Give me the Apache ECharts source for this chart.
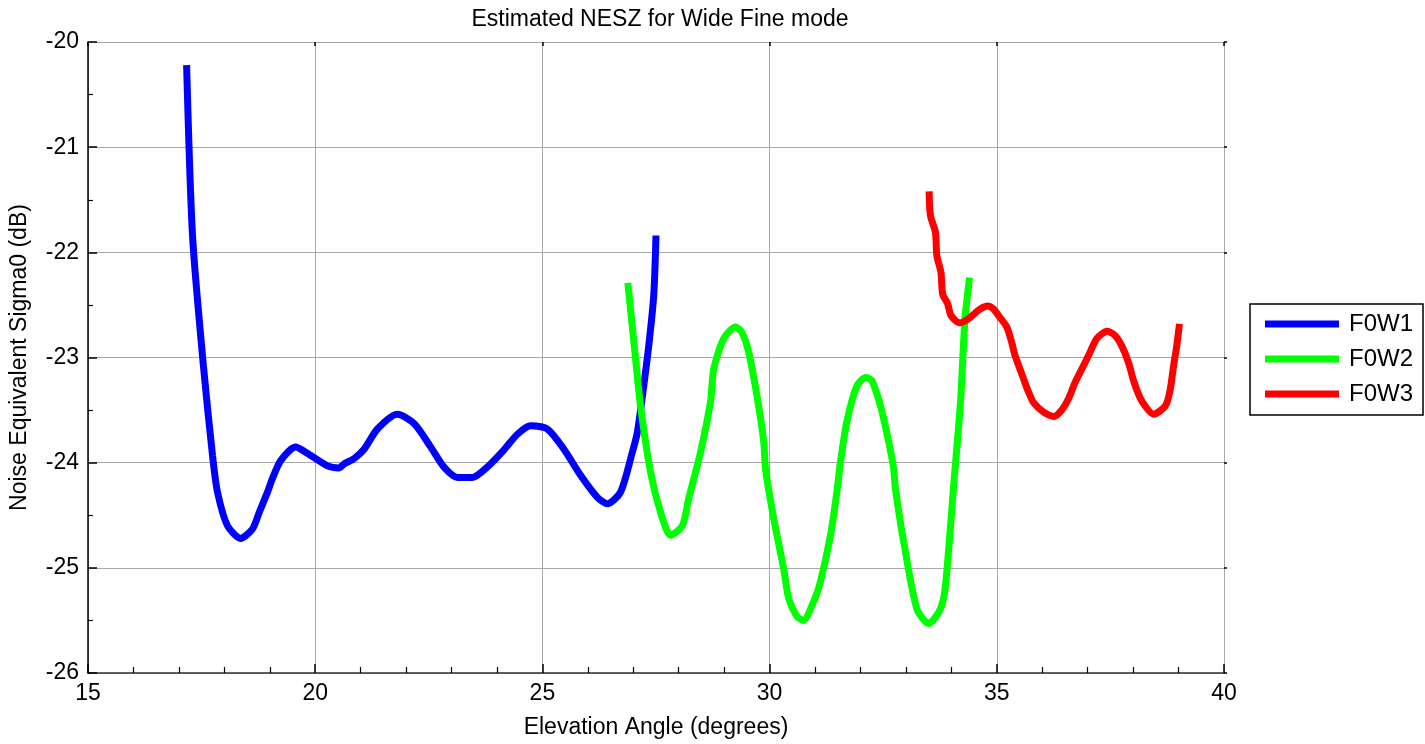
<!DOCTYPE html>
<html>
<head>
<meta charset="utf-8">
<script src="https://cdn.jsdelivr.net/npm/echarts@6/dist/echarts.min.js"></script>
<style>html,body{margin:0;padding:0;background:#fff}#c{width:1425px;height:744px}</style>
</head>
<body>
<div id="c"></div>
<script>
var seriesNames = ['F0W1', 'F0W2', 'F0W3'];
var f0w1X = [17.17,17.30,17.54,17.74,17.85,18.07,18.36,18.62,18.77,18.95,19.06,19.24,19.57,19.79,20.27,20.53,20.64,20.86,21.08,21.37,21.81,22.18,22.54,22.83,23.13,23.46,23.79,24.15,24.45,24.74,25.11,25.47,25.84,26.21,26.43,26.72,26.98,27.09,27.23,27.34,27.45,27.50];
var f0w1Y = [-20.22,-21.84,-23.08,-23.93,-24.28,-24.60,-24.72,-24.63,-24.47,-24.28,-24.15,-23.98,-23.85,-23.90,-24.03,-24.05,-24.01,-23.96,-23.87,-23.68,-23.54,-23.63,-23.85,-24.04,-24.14,-24.14,-24.04,-23.88,-23.73,-23.65,-23.68,-23.87,-24.12,-24.33,-24.39,-24.28,-23.90,-23.71,-23.27,-22.89,-22.41,-21.84];
var f0w2X = [26.88,27.05,27.16,27.38,27.60,27.82,28.08,28.22,28.48,28.70,28.77,28.99,29.25,29.39,29.54,29.72,29.87,29.91,30.09,30.31,30.42,30.60,30.74,30.97,31.12,31.34,31.48,31.56,31.70,31.92,32.12,32.25,32.44,32.62,32.73,32.77,32.95,33.24,33.50,33.76,33.87,34.05,34.20,34.30,34.40];
var f0w2Y = [-22.29,-23.01,-23.46,-24.09,-24.47,-24.69,-24.60,-24.34,-23.90,-23.42,-23.11,-22.82,-22.71,-22.76,-22.95,-23.36,-23.80,-24.06,-24.53,-25.01,-25.29,-25.46,-25.50,-25.32,-25.13,-24.69,-24.28,-23.99,-23.61,-23.27,-23.19,-23.22,-23.46,-23.80,-24.06,-24.25,-24.75,-25.39,-25.53,-25.39,-25.17,-24.22,-23.43,-22.63,-22.24];
var f0w3X = [33.51,33.54,33.65,33.68,33.77,33.81,33.92,33.99,34.18,34.38,34.63,34.80,34.93,35.07,35.22,35.33,35.40,35.51,35.62,35.70,35.81,36.03,36.26,36.43,36.58,36.72,36.87,37.02,37.20,37.43,37.60,37.75,37.90,38.01,38.12,38.23,38.45,38.71,38.81,38.89,38.96,39.02];
var f0w3Y = [-21.42,-21.65,-21.81,-22.03,-22.19,-22.40,-22.49,-22.60,-22.67,-22.63,-22.54,-22.51,-22.54,-22.62,-22.71,-22.86,-22.98,-23.11,-23.24,-23.33,-23.43,-23.52,-23.56,-23.50,-23.39,-23.24,-23.11,-22.98,-22.82,-22.75,-22.79,-22.89,-23.05,-23.22,-23.35,-23.44,-23.54,-23.46,-23.32,-23.08,-22.89,-22.68];
var xTicks = [15, 20, 25, 30, 35, 40];
var yTicks = [-26, -25, -24, -23, -22, -21, -20];

function pairs(xs, ys) { return xs.map(function (x, i) { return [x, ys[i]]; }); }

var FONT = '"Liberation Sans", Arial, sans-serif';
var chart = echarts.init(document.getElementById('c'), null, { renderer: 'canvas' });
var colors = ['#0000ff', '#00ff00', '#ff0000'];
var data = [pairs(f0w1X, f0w1Y), pairs(f0w2X, f0w2Y), pairs(f0w3X, f0w3Y)];

chart.setOption({
  backgroundColor: '#ffffff',
  animation: false,
  title: {
    text: 'Estimated NESZ for Wide Fine mode',
    left: 655, top: 3, textAlign: 'center',
    textStyle: { fontFamily: FONT, fontSize: 23, fontWeight: 'normal', color: '#000' }
  },
  legend: {
    orient: 'vertical', left: 1250, top: 304,
    padding: [8, 10, 9, 15],
    itemGap: 11, itemWidth: 74, itemHeight: 7,
    icon: 'rect',
    borderColor: '#000', borderWidth: 1.5, backgroundColor: '#fff',
    data: seriesNames,
    textStyle: { fontFamily: FONT, fontSize: 24, color: '#000', padding: [0, 0, 0, 5] }
  },
  grid: { left: 87, right: 201, top: 42, bottom: 69, containLabel: false },
  xAxis: [{
    type: 'value', min: xTicks[0], max: xTicks[xTicks.length - 1], interval: 5,
    name: 'Elevation Angle (degrees)', nameLocation: 'middle', nameGap: 43,
    nameTextStyle: { fontFamily: FONT, fontSize: 23, color: '#000' },
    axisLine: { show: true, lineStyle: { color: '#333', width: 1.5 } },
    axisTick: { show: true, inside: true, length: 9, lineStyle: { color: '#000', width: 1.5 } },
    minorTick: { show: true, splitNumber: 5, length: 6, lineStyle: { color: '#000', width: 1.2 } },
    axisLabel: { fontFamily: FONT, fontSize: 23, color: '#000', margin: 9 },
    splitLine: { show: true, lineStyle: { color: '#a8a8a8', width: 1 } }
  }, {
    type: 'value', position: 'top', min: xTicks[0], max: xTicks[xTicks.length - 1], interval: 5,
    axisLine: { show: false },
    axisTick: { show: true, inside: true, length: 4, lineStyle: { color: '#000', width: 1.5 } },
    axisLabel: { show: false }, splitLine: { show: false }
  }],
  yAxis: [{
    type: 'value', min: yTicks[0], max: yTicks[yTicks.length - 1], interval: 1,
    name: 'Noise Equivalent Sigma0 (dB)', nameLocation: 'middle', nameGap: 57,
    nameTextStyle: { fontFamily: FONT, fontSize: 23, color: '#000' },
    axisLine: { show: true, lineStyle: { color: '#000', width: 1.5 } },
    axisTick: { show: true, inside: true, length: 9, lineStyle: { color: '#000', width: 1.5 } },
    minorTick: { show: true, splitNumber: 2, length: 5, lineStyle: { color: '#000', width: 1.2 } },
    axisLabel: { fontFamily: FONT, fontSize: 23, color: '#000', margin: 9 },
    splitLine: { show: true, lineStyle: { color: '#a8a8a8', width: 1 } }
  }, {
    type: 'value', position: 'right', min: yTicks[0], max: yTicks[yTicks.length - 1], interval: 1,
    axisLine: { show: false },
    axisTick: { show: true, inside: false, length: 3, lineStyle: { color: '#000', width: 1.5 } },
    axisLabel: { show: false }, splitLine: { show: false }
  }],
  series: seriesNames.map(function (name, i) {
    return {
      name: name, type: 'line', data: data[i],
      xAxisIndex: 0, yAxisIndex: 0,
      showSymbol: false, symbol: 'none', smooth: 0.25,
      lineStyle: { color: colors[i], width: 7 },
      itemStyle: { color: colors[i] }
    };
  })
});
</script>
</body>
</html>
